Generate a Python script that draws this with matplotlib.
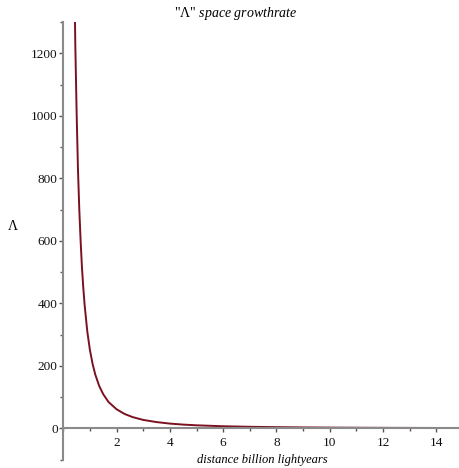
import matplotlib
matplotlib.use('Agg')
import matplotlib.pyplot as plt
from matplotlib.ticker import MultipleLocator, FixedLocator

plt.rcParams['font.family'] = ['Liberation Serif', 'DejaVu Serif']
plt.rcParams['mathtext.fontset'] = 'custom'
plt.rcParams['mathtext.rm'] = 'Liberation Serif'
plt.rcParams['mathtext.it'] = 'Liberation Serif:italic'

# values (distance in billion lightyears -> Lambda)
distance = [0.42, 0.45, 0.5, 0.55, 0.6, 0.65, 0.7, 0.75, 0.8, 0.9, 1.0, 1.1, 1.2,
            1.35, 1.5, 1.7, 2.0, 2.3, 2.6, 3.0, 3.5, 4.0, 4.5, 5.0, 6.0, 7.0,
            8.0, 9.0, 10.0, 11.0, 12.0, 13.0, 14.0, 15.0]
growth = [1420, 1230, 1010, 830, 700, 600, 515, 450, 395, 310, 250, 206, 172,
          135, 109, 84, 61, 46, 36, 27, 20, 15.2, 12, 9.7, 6.7, 4.9,
          3.8, 3.0, 2.4, 2.0, 1.65, 1.4, 1.2, 1.05]

x_ticks = [2, 4, 6, 8, 10, 12, 14]
y_ticks = [0, 200, 400, 600, 800, 1000, 1200]

fig = plt.figure(figsize=(4.59, 4.68), dpi=100)
ax = fig.add_axes([63.3 / 459, 8.4 / 468, 1 - 63.3 / 459, (459.6 - 22) / 468])

ax.plot(distance, growth, color='#7b1020', linewidth=1.4, solid_capstyle='round')

ax.set_xlim(0, 14.85)
ax.set_ylim(-100, 1300)

for s in ['top', 'right']:
    ax.spines[s].set_visible(False)
ax.spines['left'].set_position(('data', 0))
ax.spines['bottom'].set_position(('data', 0))
for s in ['left', 'bottom']:
    ax.spines[s].set_color('#8a8a8a')
    ax.spines[s].set_linewidth(1.5)

ax.xaxis.set_major_locator(FixedLocator(x_ticks))
ax.xaxis.set_minor_locator(MultipleLocator(1))
ax.yaxis.set_major_locator(FixedLocator(y_ticks))
ax.yaxis.set_minor_locator(MultipleLocator(100))
ax.tick_params(which='major', direction='out', length=3, width=1, color='#555555',
               labelsize=9.5, labelcolor='#111111')
ax.tick_params(which='minor', direction='out', length=2.2, width=1, color='#555555')
ax.tick_params(axis='y', which='major', pad=1)
ax.tick_params(axis='x', which='major', pad=3)

fig.text(236 / 459, 1 - 14 / 468, r'"$\mathrm{\Lambda}$" $\it{space\ growthrate}$',
         ha='center', va='center', fontsize=10)
fig.text(262 / 459, 1 - 460 / 468, 'distance billion lightyears', style='italic',
         ha='center', va='center', fontsize=9)
fig.text(13 / 459, 1 - 226 / 468, 'Λ', ha='center', va='center', fontsize=10)

fig.savefig('out.png', dpi=100, facecolor='white')
